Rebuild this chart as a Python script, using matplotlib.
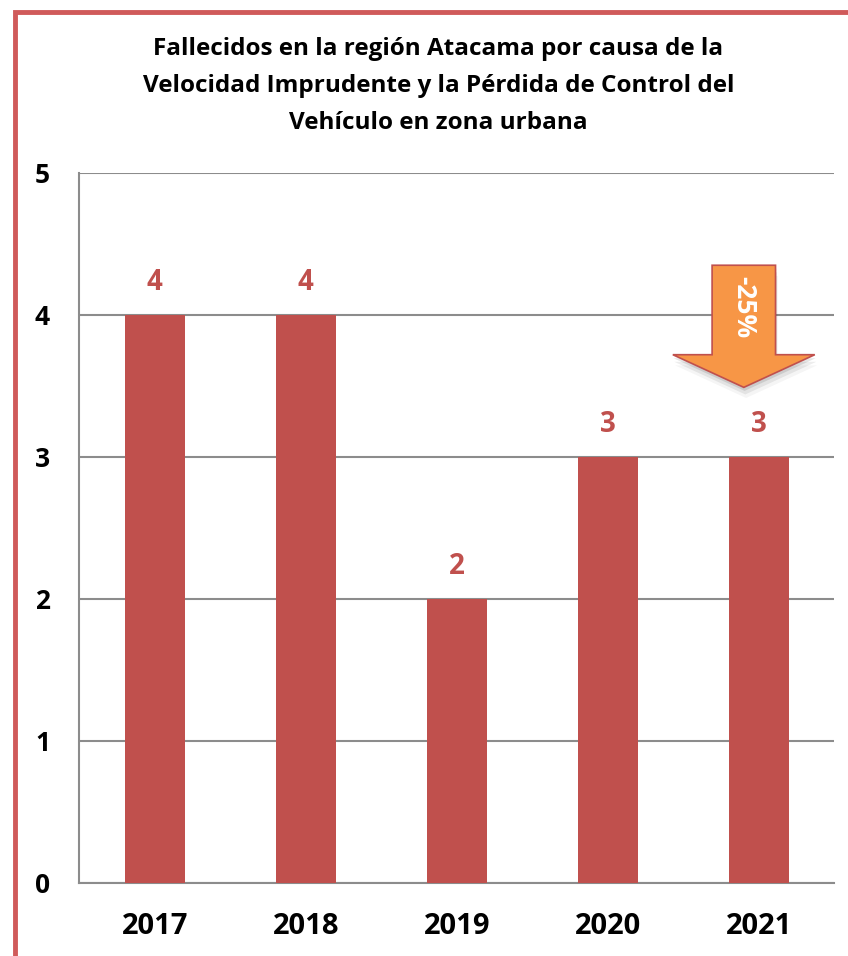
import matplotlib
matplotlib.use("Agg")
import matplotlib.pyplot as plt
from matplotlib.patches import Polygon, Rectangle

# datos
years = ["2017", "2018", "2019", "2020", "2021"]
deaths = [4, 4, 2, 3, 3]
change_label = "-25%"
title = ("Fallecidos en la región Atacama por causa de la\n"
         "Velocidad Imprudente y la Pérdida de Control del\n"
         "Vehículo en zona urbana")

bar_color = "#C0504D"
grid_color = "#8C8C8C"
plt.rcParams["font.family"] = ["Open Sans", "DejaVu Sans"]

fig = plt.figure(figsize=(8.48, 9.56), dpi=100)
ax = fig.add_axes([0.0935, 0.0764, 0.8905, 0.7427])

x = range(len(years))
ax.bar(x, deaths, width=0.4, color=bar_color, zorder=3)

ax.set_xlim(-0.5, len(years) - 0.5)
ax.set_ylim(0, 5)
ax.set_yticks(range(6))
ax.set_xticks(list(x))
ax.set_xticklabels(years)
ax.tick_params(length=0)
ax.tick_params(axis="x", pad=21, labelsize=21)
ax.tick_params(axis="y", pad=21, labelsize=19)
for lab in ax.get_xticklabels() + ax.get_yticklabels():
    lab.set_fontweight("bold")

ax.grid(axis="y", color=grid_color, linewidth=1.5, zorder=0)
for s in ["top", "right"]:
    ax.spines[s].set_visible(False)
for s in ["left", "bottom"]:
    ax.spines[s].set_color(grid_color)
    ax.spines[s].set_linewidth(1.5)

for i, v in enumerate(deaths):
    ax.text(i, v + 0.23, str(v), ha="center", va="center", color=bar_color,
            fontsize=20, fontweight="bold")

# flecha de variacion sobre el ultimo año
i = len(years) - 1
cx = i - 0.1
top = deaths[i] + 1.35
neck = deaths[i] + 0.72
tip = deaths[i] + 0.49
hw, sw = 0.47, 0.21
pts = [(cx - sw, top), (cx + sw, top), (cx + sw, neck), (cx + hw, neck),
       (cx, tip), (cx - hw, neck), (cx - sw, neck)]
for k, a in [(1, 0.10), (2, 0.07), (3, 0.04)]:
    shadow = Polygon([(px + 0.005 * k, py - 0.025 * k) for px, py in pts],
                     closed=True, facecolor="#000000", alpha=a,
                     edgecolor="none", zorder=4)
    ax.add_patch(shadow)
ax.add_patch(Polygon(pts, closed=True, facecolor="#F79646", edgecolor="#C0504D",
                     linewidth=1.2, zorder=5))
ax.text(cx, (top + neck) / 2 + 0.02, change_label, rotation=-90, ha="center",
        va="center", color="white", fontsize=19, fontweight="bold", zorder=6)

fig.suptitle(title, x=0.517, y=0.961, fontsize=17.5, fontweight="bold",
             linespacing=1.72, va="top")

# marco del grafico
fig.patches.append(Rectangle((15 / 848, -0.1), 1.2, 1.1 - 11.5 / 956,
                             transform=fig.transFigure, fill=False,
                             edgecolor="#D05A5A", linewidth=3.5))

fig.savefig("out.png", dpi=100)
